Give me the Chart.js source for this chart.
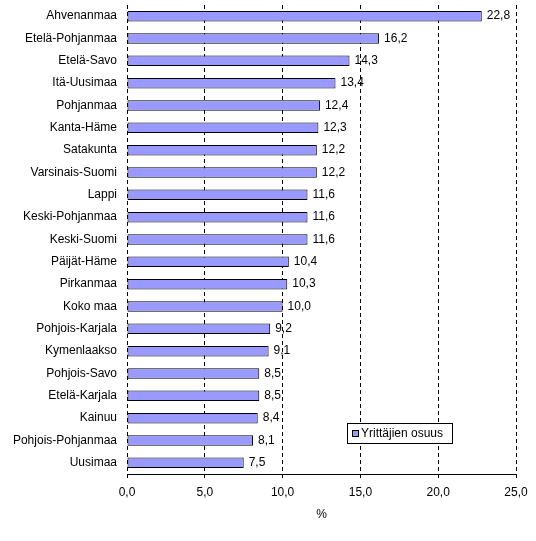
<!DOCTYPE html>
<html>
<head>
<meta charset="utf-8">
<script src="https://cdn.jsdelivr.net/npm/chart.js@4"></script>
<style>
  body { margin: 0; background: #fff; }
  canvas { display: block; }
</style>
</head>
<body>
<canvas id="chart" width="536" height="541"></canvas>
<script>
// maakunnat ja yrittäjien osuus (%)
const regions = [
  'Ahvenanmaa', 'Etelä-Pohjanmaa', 'Etelä-Savo', 'Itä-Uusimaa', 'Pohjanmaa',
  'Kanta-Häme', 'Satakunta', 'Varsinais-Suomi', 'Lappi', 'Keski-Pohjanmaa',
  'Keski-Suomi', 'Päijät-Häme', 'Pirkanmaa', 'Koko maa', 'Pohjois-Karjala',
  'Kymenlaakso', 'Pohjois-Savo', 'Etelä-Karjala', 'Kainuu', 'Pohjois-Pohjanmaa',
  'Uusimaa'
];
const shares = [
  22.8, 16.2, 14.3, 13.4, 12.4,
  12.3, 12.2, 12.2, 11.6, 11.6,
  11.6, 10.4, 10.3, 10.0, 9.2,
  9.1, 8.5, 8.5, 8.4, 8.1,
  7.5
];
const seriesName = 'Yrittäjien osuus';
const xTicks = [0, 5, 10, 15, 20, 25];

const FONT = 'Liberation Sans, Arial, sans-serif';
const fmt = v => v.toFixed(1).replace('.', ',');

// arvot palkkien perään
const valueLabels = {
  id: 'valueLabels',
  afterDatasetsDraw(chart) {
    const ctx = chart.ctx;
    const meta = chart.getDatasetMeta(0);
    ctx.save();
    ctx.font = '12px ' + FONT;
    ctx.fillStyle = '#000';
    ctx.textAlign = 'left';
    ctx.textBaseline = 'middle';
    meta.data.forEach((bar, i) => {
      ctx.fillText(fmt(chart.data.datasets[0].data[i]), bar.x + 5, bar.y);
    });
    ctx.restore();
  }
};

// selite kuva-alueen sisällä
const boxLegend = {
  id: 'boxLegend',
  afterDraw(chart) {
    const ctx = chart.ctx;
    const ds = chart.data.datasets[0];
    const x = 347, y = 423, w = 105, h = 20;
    ctx.save();
    ctx.fillStyle = '#fff';
    ctx.fillRect(x, y, w, h);
    ctx.strokeStyle = '#000';
    ctx.lineWidth = 1;
    ctx.strokeRect(x + 0.5, y + 0.5, w, h);
    ctx.fillStyle = ds.backgroundColor;
    ctx.fillRect(x + 5, y + 7, 7, 7);
    ctx.strokeRect(x + 5.5, y + 7.5, 6, 6);
    ctx.fillStyle = '#000';
    ctx.font = '12px ' + FONT;
    ctx.textBaseline = 'middle';
    ctx.fillText(ds.label, x + 14, y + 11);
    ctx.restore();
  }
};

new Chart(document.getElementById('chart'), {
  type: 'bar',
  data: {
    labels: regions,
    datasets: [{
      label: seriesName,
      data: shares,
      backgroundColor: '#9999ff',
      borderColor: '#000',
      borderWidth: 1,
      borderSkipped: false,
      categoryPercentage: 1,
      barPercentage: 0.47
    }]
  },
  options: {
    indexAxis: 'y',
    responsive: false,
    animation: false,
    devicePixelRatio: 1,
    layout: { padding: { top: 5, right: 20, left: 0, bottom: 0 } },
    scales: {
      x: {
        min: 0,
        max: 25,
        afterBuildTicks: s => { s.ticks = xTicks.map(v => ({ value: v })); },
        afterFit: s => { s.height = 67; },
        ticks: {
          color: '#000',
          font: { family: FONT, size: 12 },
          padding: 7,
          callback: v => fmt(v)
        },
        grid: {
          color: '#000',
          lineWidth: 1,
          tickLength: 4,
          tickColor: '#000'
        },
        border: { display: true, color: '#000', width: 1, dash: [4, 3] },
        title: {
          display: true,
          text: '%',
          color: '#000',
          font: { family: FONT, size: 12 },
          padding: { top: 0, bottom: 19 }
        }
      },
      y: {
        afterFit: s => { s.width = 127; s.paddingTop = 0; s.paddingBottom = 0; },
        grid: { display: false, drawTicks: false },
        border: { display: false },
        ticks: {
          color: '#000',
          font: { family: FONT, size: 12 },
          padding: 10
        }
      }
    },
    plugins: {
      legend: { display: false },
      tooltip: { enabled: false }
    }
  },
  plugins: [valueLabels, boxLegend]
});
</script>
</body>
</html>
